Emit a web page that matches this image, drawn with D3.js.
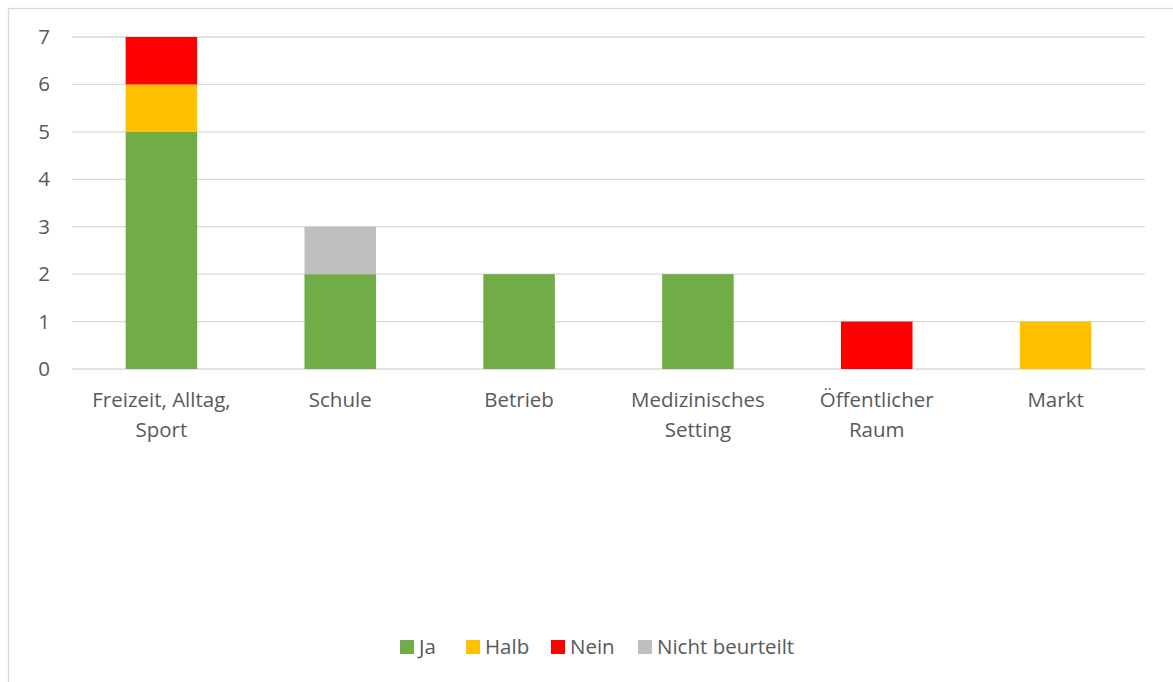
<!DOCTYPE html>
<html>
<head>
<meta charset="utf-8">
<script src="https://cdn.jsdelivr.net/npm/d3@7"></script>
<style>
  body { margin: 0; background: #fff; }
  text { font-family: "Open Sans", "Noto Sans", sans-serif; fill: #595959; }
</style>
</head>
<body>
<svg id="chart" width="1173" height="682"></svg>
<script>
// Data
const categories = [["Freizeit, Alltag,", "Sport"], ["Schule"], ["Betrieb"], ["Medizinisches", "Setting"], ["Öffentlicher", "Raum"], ["Markt"]];
const seriesNames = ["Ja", "Halb", "Nein", "Nicht beurteilt"];
const ja = [5, 2, 2, 2, 0, 0];
const halb = [1, 0, 0, 0, 0, 1];
const nein = [1, 0, 0, 0, 1, 0];
const nichtBeurteilt = [0, 1, 0, 0, 0, 0];
const yTicks = [0, 1, 2, 3, 4, 5, 6, 7];
const colors = ["#70AD47", "#FFC000", "#FF0000", "#BFBFBF"];

const margin = { left: 72, right: 28, top: 37, bottom: 313 };
const width = 1173, height = 682;
const fontSize = 20.5;
const svg = d3.select("#chart");

// Chart border
svg.append("rect")
    .attr("x", 8.5).attr("y", 8.5)
    .attr("width", 1180).attr("height", 700)
    .attr("fill", "none").attr("stroke", "#D9D9D9").attr("stroke-width", 1.3);

const rows = categories.map((c, i) => ({
    key: i, Ja: ja[i], Halb: halb[i], Nein: nein[i], "Nicht beurteilt": nichtBeurteilt[i]
}));
const stacked = d3.stack().keys(seriesNames)(rows);

const xScale = d3.scaleBand()
    .domain(d3.range(categories.length))
    .range([margin.left, width - margin.right])
    .paddingInner(0.6).paddingOuter(0.3);
const yScale = d3.scaleLinear().domain([0, 7]).range([height - margin.bottom, margin.top]);

// Gridlines
svg.append("g").selectAll("line").data(yTicks).join("line")
    .attr("x1", margin.left).attr("x2", width - margin.right)
    .attr("y1", d => yScale(d)).attr("y2", d => yScale(d))
    .attr("stroke", "#D9D9D9").attr("stroke-width", 1.3);

// Y axis labels
const yAxis = d3.axisLeft(yScale).tickValues(yTicks).tickFormat(d3.format("d")).tickSize(0).tickPadding(0);
svg.append("g")
    .attr("transform", `translate(${margin.left - 22},0)`)
    .call(yAxis)
    .call(g => g.select(".domain").remove())
    .selectAll("text")
    .attr("font-size", fontSize)
    .attr("font-family", null)
    .attr("fill", "#595959");

// Bars
svg.append("g").selectAll("g").data(stacked).join("g")
    .attr("fill", (d, i) => colors[i])
    .selectAll("rect").data(d => d.filter(p => p[1] > p[0])).join("rect")
    .attr("x", d => xScale(d.data.key))
    .attr("width", xScale.bandwidth())
    .attr("y", d => yScale(d[1]))
    .attr("height", d => yScale(d[0]) - yScale(d[1]));

// Category labels
const xLabels = svg.append("g").selectAll("text").data(categories).join("text")
    .attr("x", (d, i) => xScale(i) + xScale.bandwidth() / 2)
    .attr("y", 407)
    .attr("text-anchor", "middle")
    .attr("font-size", fontSize);
xLabels.selectAll("tspan").data(d => d).join("tspan")
    .attr("x", function () { return this.parentNode.getAttribute("x"); })
    .attr("dy", (d, i) => i === 0 ? 0 : 30)
    .text(d => d);

// Legend
const legendX = [400, 466, 551, 638];
const legend = svg.append("g").selectAll("g").data(seriesNames).join("g")
    .attr("transform", (d, i) => `translate(${legendX[i]},640)`);
legend.append("rect").attr("width", 14).attr("height", 14).attr("fill", (d, i) => colors[i]);
legend.append("text").attr("x", 19).attr("y", 13.5).attr("font-size", fontSize).text(d => d);
</script>
</body>
</html>
